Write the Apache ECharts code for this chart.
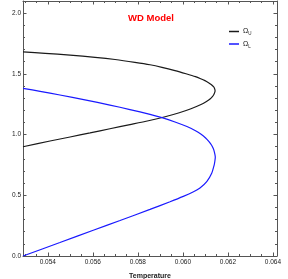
<!DOCTYPE html>
<html>
<head>
<meta charset="utf-8">
<script src="https://cdn.jsdelivr.net/npm/echarts@6/dist/echarts.min.js"></script>
<style>html,body{margin:0;padding:0;background:#fff}#c{width:288px;height:279px}</style>
</head>
<body>
<div id="c"></div>
<script>
// ---- data ----
const uTemp = [0.05290,0.05388,0.05499,0.05610,0.05699,0.05787,0.05854,0.05907,0.05965,0.06014,0.06056,0.06079,0.06098,0.06114,0.06127,0.06136,0.06141,0.06143,
               0.06141,0.06137,0.06131,0.06122,0.06103,0.06078,0.06036,0.05984,0.05921,0.05847,0.05765,0.05676,0.05588,0.05499,0.05410,0.05290];
const uOmega = [1.681,1.669,1.654,1.636,1.618,1.595,1.575,1.554,1.527,1.501,1.477,1.460,1.444,1.427,1.411,1.394,1.378,1.361,
                1.345,1.328,1.312,1.295,1.271,1.246,1.213,1.180,1.147,1.114,1.082,1.048,1.014,0.980,0.947,0.900];
const lTemp = [0.05290,0.05366,0.05454,0.05565,0.05676,0.05765,0.05854,0.05907,0.05965,0.06018,0.06054,0.06081,0.06101,0.06116,0.06127,0.06135,0.06140,0.06144,
               0.06142,0.06139,0.06128,0.06106,0.06076,0.06045,0.06002,0.05943,0.05854,0.05721,0.05602,0.05454,0.05290];
const lOmega = [1.381,1.356,1.326,1.286,1.243,1.206,1.166,1.139,1.104,1.066,1.033,1.002,0.972,0.942,0.914,0.885,0.856,0.816,
                0.780,0.749,0.681,0.612,0.560,0.527,0.491,0.447,0.384,0.292,0.212,0.111,0.000];
const seriesNames = ['ΩU','ΩL'];
const xMajor = [0.054,0.056,0.058,0.060,0.062,0.064];
const yMajor = [0.0,0.5,1.0,1.5,2.0];
const xMin = 0.0529, xMax = 0.06418, yMin = 0, yMax = 2.1;
const titleText = 'WD Model';
const xName = 'Temperature';

// minor tick positions
const xMinor = [];
for (let i = 0; i <= 22; i++) { const v = +(0.053 + i*0.0005).toFixed(4); if (!xMajor.some(m => Math.abs(m-v) < 1e-9)) xMinor.push(v); }
const yMinor = [];
for (let i = 1; i <= 21; i++) { const v = +(i*0.1).toFixed(1); if (!yMajor.some(m => Math.abs(m-v) < 1e-9)) yMinor.push(v); }

const frameColor = '#555';
const lblStyle = {fontFamily:'Liberation Sans, Arial, sans-serif', fontSize:6.5, color:'#222'};

function xAx(pos, values, len, showLine, showLabel) {
  return {
    type:'value', position:pos, min:xMin, max:xMax,
    axisLine:{show:showLine, onZero:false, lineStyle:{color:frameColor, width:1}},
    axisTick:{show:true, inside:true, length:len, customValues:values, lineStyle:{color:frameColor, width:1}},
    axisLabel:{show:showLabel, customValues:values, margin:3, formatter:v=>v.toFixed(3), ...lblStyle},
    splitLine:{show:false}
  };
}
function yAx(pos, values, len, showLine, showLabel) {
  return {
    type:'value', position:pos, min:yMin, max:yMax,
    axisLine:{show:showLine, onZero:false, lineStyle:{color:frameColor, width:1}},
    axisTick:{show:true, inside:true, length:len, customValues:values, lineStyle:{color:frameColor, width:1}},
    axisLabel:{show:showLabel, customValues:values, margin:2, formatter:v=>v.toFixed(1), ...lblStyle},
    splitLine:{show:false}
  };
}

const xAxes = [
  Object.assign(xAx('bottom', xMajor, 3.5, true, true), {
    name:xName, nameLocation:'middle', nameGap:17,
    nameTextStyle:{fontFamily:'Liberation Sans, Arial, sans-serif', fontSize:7, fontWeight:'bold', color:'#222'}
  }),
  xAx('bottom', xMinor, 2, false, false),
  xAx('top', xMajor, 3.5, true, false),
  xAx('top', xMinor, 2, false, false)
];
const yAxes = [
  Object.assign(yAx('left', yMajor, 3.5, true, true), {
    name:'{o|Ω}{s|U}{t| and }{o|Ω}{s|L}', nameLocation:'middle', nameGap:16, nameRotate:90,
    nameTextStyle:{fontFamily:'Liberation Sans, Arial, sans-serif', fontWeight:'bold', color:'#222',
      rich:{o:{fontSize:6.5,fontWeight:'bold',lineHeight:10,verticalAlign:'middle'},
            s:{fontSize:4.5,fontWeight:'bold',lineHeight:10,verticalAlign:'bottom',padding:[3,0,0,0]},
            t:{fontSize:6.5,fontWeight:'bold',lineHeight:10,verticalAlign:'middle'}}}
  }),
  yAx('left', yMinor, 2, false, false),
  yAx('right', yMajor, 3.5, true, false),
  yAx('right', yMinor, 2, false, false)
];

const chart = echarts.init(document.getElementById('c'), null, {renderer:'canvas'});
chart.setOption({
  animation:false,
  backgroundColor:'#fff',
  grid:{left:23, right:11, top:1, bottom:23, containLabel:false, outerBoundsMode:'none'},
  graphic:[{type:'text', left:128, top:13, style:{text:titleText, fill:'#ff0000', font:'bold 9.5px "Liberation Sans", Arial, sans-serif'}}],
  legend:{
    orient:'vertical', left:229, top:28, padding:0, itemGap:4, itemWidth:10, itemHeight:1.5, icon:'rect',
    data:seriesNames,
    formatter:n => '{o|Ω}{s|' + n.slice(1) + '}',
    textStyle:{fontFamily:'Liberation Sans, Arial, sans-serif', color:'#222', padding:[0,0,0,-1],
      rich:{o:{fontSize:7,lineHeight:10,verticalAlign:'middle'}, s:{fontSize:4.5,lineHeight:10,verticalAlign:'bottom',padding:[3,0,0,0]}}}
  },
  xAxis:xAxes,
  yAxis:yAxes,
  series:[
    {name:seriesNames[0], type:'line', xAxisIndex:0, yAxisIndex:0, showSymbol:false, smooth:0.25,
     data:uTemp.map((t,i)=>[t,uOmega[i]]), lineStyle:{color:'#1a1a1a', width:1.2}, itemStyle:{color:'#1a1a1a'}},
    {name:seriesNames[1], type:'line', xAxisIndex:0, yAxisIndex:0, showSymbol:false, smooth:0.25,
     data:lTemp.map((t,i)=>[t,lOmega[i]]), lineStyle:{color:'#1a1aff', width:1.2}, itemStyle:{color:'#1a1aff'}}
  ]
});
</script>
</body>
</html>
